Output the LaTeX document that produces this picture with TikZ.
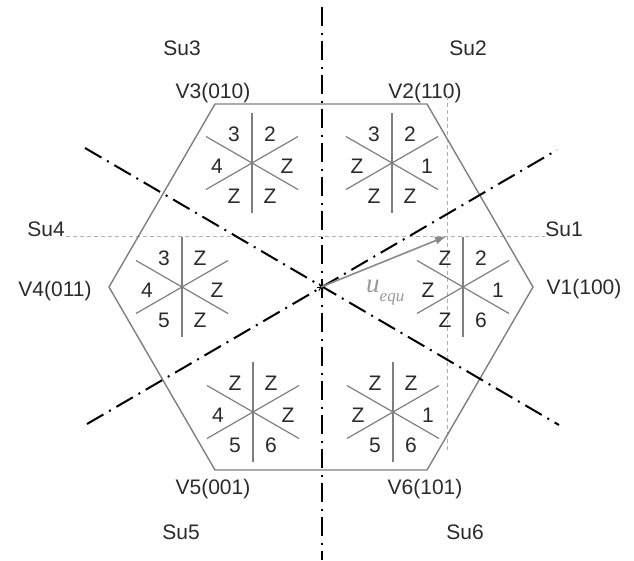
\documentclass[tikz,border=0pt]{standalone}
\usepackage{fontspec}
\setmainfont{Liberation Sans}
\newfontfamily\userif{Liberation Serif}
\usetikzlibrary{arrows.meta,calc}
\definecolor{hexgray}{HTML}{7F7F7F}
\definecolor{txtgray}{HTML}{2A2A2A}
\definecolor{lightdash}{HTML}{B0B0B0}
\definecolor{arrowgray}{HTML}{8A8A8A}
\definecolor{ugray}{HTML}{999999}
\tikzset{
 lbl/.style={font=\fontsize{21}{24}\selectfont, text=txtgray, inner sep=0pt},
 hexline/.style={draw=hexgray, line width=1.4pt, line join=miter},
 starline/.style={draw=hexgray, line width=1.2pt},
 axisline/.style={draw=black, line width=2pt, dash pattern=on 19pt off 6.5pt on 2pt off 6.5pt},
 guide/.style={draw=lightdash, line width=0.9pt, dash pattern=on 4pt off 3pt},
 vecarrow/.style={draw=arrowgray, line width=1.6pt, -{Latex[length=12pt,width=8pt]}},
}
% name, x, y, tl, tr, l, r, bl, br
\newcommand\sectorstar[9]{%
 \coordinate (#1) at (#2,#3);
 \coordinate (#1-n) at (#2,{#3-50});
 \coordinate (#1-s) at (#2,{#3+50});
 \coordinate (#1-a1) at ({#2-46},{#3-26.5});
 \coordinate (#1-a2) at ({#2+46},{#3+26.5});
 \coordinate (#1-b1) at ({#2-46},{#3+26.5});
 \coordinate (#1-b2) at ({#2+46},{#3-26.5});
 \draw[starline] (#1-n) -- (#1-s);
 \draw[starline] (#1-a1) -- (#1-a2);
 \draw[starline] (#1-b1) -- (#1-b2);
 \node[lbl] (#1-tl) at ({#2-18},{#3-29}) {#4};
 \node[lbl] (#1-tr) at ({#2+18},{#3-29}) {#5};
 \node[lbl] (#1-l) at ({#2-35},{#3+3}) {#6};
 \node[lbl] (#1-r) at ({#2+35},{#3+3}) {#7};
 \node[lbl] (#1-bl) at ({#2-18},{#3+33}) {#8};
 \node[lbl] (#1-br) at ({#2+18},{#3+33}) {#9};
}
\begin{document}
\begin{tikzpicture}[x=1pt,y=-1pt]
\useasboundingbox (0,0) rectangle (634,560);
% sector names
\node[lbl] (Su3) at (182,48) {Su3};
\node[lbl] (Su2) at (468,48) {Su2};
\node[lbl] (Su4) at (46,229) {Su4};
\node[lbl] (Su1) at (564,229) {Su1};
\node[lbl] (Su5) at (181,532) {Su5};
\node[lbl] (Su6) at (465,532) {Su6};
% vertex labels
\node[lbl] (lV3) at (213,93) {V3(010)};
\node[lbl] (lV2) at (425,93) {V2(110)};
\node[lbl] (lV4) at (55,291) {V4(011)};
\node[lbl] (lV1) at (584,289) {V1(100)};
\node[lbl] (lV5) at (213,489) {V5(001)};
\node[lbl] (lV6) at (425,489) {V6(101)};
% guide dashed lines
\coordinate (g1) at (66,236);
\coordinate (g2) at (545,236);
\coordinate (g3) at (447,96);
\coordinate (g4) at (447,452);
\coordinate (tip) at (447,236);
\draw[guide] (g1) -- (g2);
\draw[guide] (g3) -- (g4);
% hexagon
\coordinate (V1) at (533,287);
\coordinate (V2) at (427,104);
\coordinate (V3) at (215,104);
\coordinate (V4) at (109,287);
\coordinate (V5) at (215,470);
\coordinate (V6) at (427,470);
\draw[hexline] (V1) -- (V2) -- (V3) -- (V4) -- (V5) -- (V6) -- cycle;
% axes
\coordinate (O) at (321,287);
\coordinate (ax1) at (322,7);
\coordinate (ax2) at (322,560);
\coordinate (d1a) at (85,148);
\coordinate (d1b) at (559,425);
\coordinate (d2a) at (87,424);
\coordinate (d2b) at (557,150);
\draw[axisline] (ax1) -- (ax2);
\draw[axisline] (d1a) -- (d1b);
\draw[axisline] (d2a) -- (d2b);
% center asterisk
\draw[black, line width=1pt] ($(O)+(-4,0)$) -- ($(O)+(4,0)$);
\draw[black, line width=1pt] ($(O)+(-2,-3.5)$) -- ($(O)+(2,3.5)$);
\draw[black, line width=1pt] ($(O)+(-2,3.5)$) -- ($(O)+(2,-3.5)$);
% sector stars
\sectorstar{s3}{252}{163}{3}{2}{4}{Z}{Z}{Z}
\sectorstar{s2}{392}{163}{3}{2}{Z}{1}{Z}{Z}
\sectorstar{s4}{182}{287}{3}{Z}{4}{Z}{5}{Z}
\sectorstar{s1}{463}{287}{Z}{2}{Z}{1}{Z}{6}
\sectorstar{s5}{253}{412}{Z}{Z}{4}{Z}{5}{6}
\sectorstar{s6}{393}{412}{Z}{Z}{Z}{1}{5}{6}
% vector
\draw[vecarrow] (O) -- (tip);
\node[text=ugray, inner sep=0pt, anchor=base west] (ueq) at (366,292) {{\fontsize{27}{30}\selectfont\userif\itshape u}\raisebox{-9pt}{\fontsize{17}{20}\selectfont\userif\itshape equ}};
\end{tikzpicture}
\end{document}
